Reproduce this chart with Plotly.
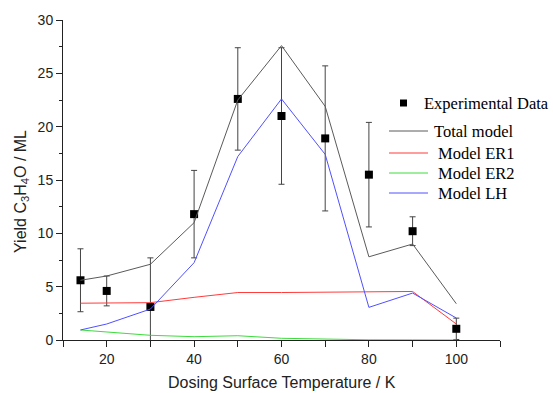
import plotly.graph_objects as go

# Dosing surface temperatures (K)
temperature = [14, 20, 30, 40, 50, 60, 70, 80, 90, 100]

# Measured yield with uncertainty (ML)
exp_yield = [5.6, 4.6, 3.1, 11.8, 22.6, 21.0, 18.9, 15.5, 10.2, 1.05]
exp_err = [2.95, 1.4, 4.6, 4.1, 4.8, 6.4, 6.8, 4.9, 1.35, 1.0]

# Model contributions (ML)
total_model = [5.6, 6.0, 7.1, 11.0, 22.5, 27.6, 21.9, 7.8, 9.0, 3.4]
model_er1 = [3.45, 3.45, 3.5, 4.0, 4.45, 4.45, 4.5, 4.55, 4.55, 1.5]
model_er2 = [0.94, 0.75, 0.44, 0.31, 0.4, 0.16, 0.08, 0.02, 0.01, 0.0]
model_lh = [0.94, 1.5, 2.9, 7.25, 17.2, 22.6, 17.4, 3.06, 4.4, 2.06]

line_series = [
    ("Total model", total_model, "#5a5a5a"),
    ("Model ER1", model_er1, "#ff3b3b"),
    ("Model ER2", model_er2, "#3ddc3d"),
    ("Model LH", model_lh, "#5050ff"),
]

fig = go.Figure()

fig.add_trace(go.Scatter(
    x=temperature, y=exp_yield, mode="markers", name="Experimental Data",
    marker=dict(symbol="square", size=8, color="black"),
    error_y=dict(type="data", array=exp_err, visible=True,
                 color="#444444", thickness=1, width=3),
    showlegend=False,
))

for name, vals, col in line_series:
    fig.add_trace(go.Scatter(
        x=temperature, y=vals, mode="lines", name=name,
        line=dict(color=col, width=1), showlegend=False,
    ))

# Plot area geometry in pixels, used to place the key and the titles
W, H = 553, 393
ML_, MR_, MT_, MB_ = 63, 53, 20, 53
PW, PH = W - ML_ - MR_, H - MT_ - MB_


def px(x):
    return (x - ML_) / PW


def py(y):
    return (H - MB_ - y) / PH


serif = "Liberation Serif, Times New Roman, serif"
sans = "Liberation Sans, Arial, sans-serif"
annotations = []
shapes = []

# Key: experimental points
shapes.append(dict(type="rect", xref="paper", yref="paper",
                   x0=px(400), x1=px(407), y0=py(106.5), y1=py(99.5),
                   fillcolor="black", line=dict(width=0)))
annotations.append(dict(text="Experimental Data", xref="paper", yref="paper",
                        x=px(422), y=py(103), xanchor="left", yanchor="middle",
                        showarrow=False, font=dict(family=serif, size=16.5, color="black")))

# Key: model lines
key_rows = [131, 153, 173, 193]
key_text_x = [432, 436, 436, 436]
for (name, _, col), ky, tx in zip(line_series, key_rows, key_text_x):
    shapes.append(dict(type="line", xref="paper", yref="paper",
                       x0=px(389), x1=px(428), y0=py(ky), y1=py(ky),
                       line=dict(color=col, width=1)))
    annotations.append(dict(text=name, xref="paper", yref="paper",
                            x=px(tx), y=py(ky), xanchor="left", yanchor="middle",
                            showarrow=False, font=dict(family=serif, size=16.5, color="black")))

# Axis titles
annotations.append(dict(text="Dosing Surface Temperature / K", xref="paper", yref="paper",
                        x=0.5, y=py(382), xanchor="center", yanchor="middle",
                        showarrow=False, font=dict(family=sans, size=16, color="#222222")))
annotations.append(dict(text="Yield C<sub>3</sub>H<sub>4</sub>O / ML", xref="paper", yref="paper",
                        x=px(21), y=py(192), xanchor="center", yanchor="middle", textangle=-90,
                        showarrow=False, font=dict(family=sans, size=16, color="#222222")))

tick_font = dict(family=sans, size=14, color="#222222")

fig.update_layout(
    width=W, height=H,
    margin=dict(l=ML_, r=MR_, t=MT_, b=MB_),
    paper_bgcolor="white", plot_bgcolor="white",
    showlegend=False,
    shapes=shapes,
    annotations=annotations,
    xaxis=dict(
        range=[10, 110], tickvals=[20, 40, 60, 80, 100],
        showgrid=False, zeroline=False, showline=True, linecolor="#222222", linewidth=1,
        ticks="outside", ticklen=6, tickcolor="#222222", tickfont=tick_font,
        minor=dict(dtick=10, tick0=10, ticks="outside", ticklen=6, tickcolor="#222222"),
    ),
    yaxis=dict(
        range=[0, 30], tickvals=[0, 5, 10, 15, 20, 25, 30],
        showgrid=False, zeroline=False, showline=True, linecolor="#222222", linewidth=1,
        ticks="outside", ticklen=6, tickcolor="#222222", tickfont=tick_font,
        minor=dict(dtick=2.5, tick0=0, ticks="outside", ticklen=3, tickcolor="#222222"),
    ),
)

fig.write_html("out.html")
